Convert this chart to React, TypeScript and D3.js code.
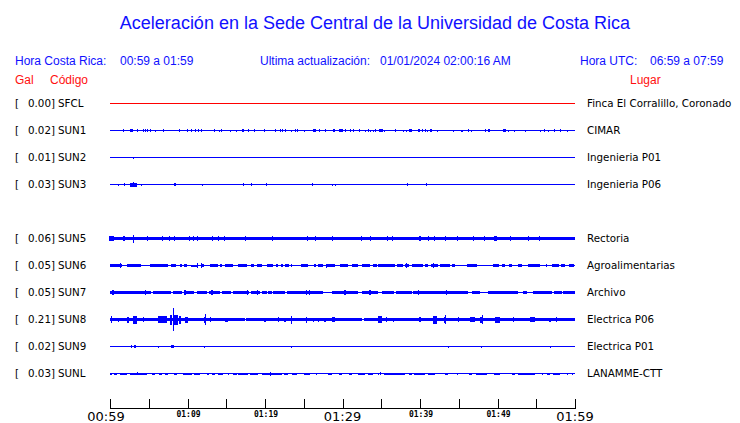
import React from "react";
import * as d3 from "d3";

// ---------- DATA ----------
const title = "Aceleración en la Sede Central de la Universidad de Costa Rica";
const codes = ["SFCL", "SUN1", "SUN2", "SUN3", "SUN5", "SUN6", "SUN7", "SUN8", "SUN9", "SUNL"];
const galValues = [0.0, 0.02, 0.01, 0.03, 0.06, 0.05, 0.05, 0.21, 0.02, 0.03];
const places = [
  "Finca El Corralillo, Coronado",
  "CIMAR",
  "Ingenieria P01",
  "Ingenieria P06",
  "Rectoria",
  "Agroalimentarias",
  "Archivo",
  "Electrica P06",
  "Electrica P01",
  "LANAMME-CTT",
];
// row slot of each station (slot 4 = SUN4, empty)
const rowSlots = [0, 1, 2, 3, 5, 6, 7, 8, 9, 10];
const slotCount = 11;

// background noise half-amplitude (counts) of each trace
const baseAmp = [0.5, 0.5, 0.5, 0.5, 1.7, 0.5, 0.5, 1.5, 0.5, 0.5];

// sustained bursts: [startMinute, endMinute, halfAmplitude]
const bandsSUN6: [number, number, number][] = [
  [0, 1.5, 1.3], [2.15, 4.0, 1.3], [5.2, 7.44, 1.3], [7.91, 8.52, 1.3], [8.99, 9.25, 1.3],
  [9.55, 9.98, 1.3], [10.45, 11.18, 1.1], [11.83, 12.13, 1.3], [12.95, 13.98, 1.3], [14.19, 14.49, 1.3],
  [14.84, 15.83, 1.3], [16.47, 17.63, 1.3], [18.15, 18.58, 1.3], [18.92, 19.57, 1.3], [20.22, 21.08, 1.3],
  [21.38, 21.72, 1.3], [22.02, 22.37, 1.3], [22.62, 23.1, 1.3], [23.35, 23.53, 1.3], [24.69, 25.5, 1.3],
  [26.32, 26.54, 1.3], [26.88, 27.53, 1.3], [27.83, 29.03, 1.3], [29.72, 30.75, 1.3], [31.27, 32.04, 1.3],
  [32.47, 33.55, 1.3], [33.89, 34.41, 1.3], [34.62, 36.77, 1.3], [37.08, 37.76, 1.3], [38.06, 38.62, 1.3],
  [38.92, 40.43, 1.3], [40.65, 41.08, 1.3], [41.38, 42.37, 1.3], [42.58, 43.87, 1.3], [44.17, 44.52, 1.3],
  [46.02, 47.4, 1.3], [49.46, 50.19, 1.3], [50.54, 50.97, 1.3], [51.53, 51.91, 1.3], [52.6, 53.2, 1.3],
  [53.89, 55.48, 1.3], [56.22, 56.43, 1.3], [56.99, 57.94, 1.3], [58.19, 58.71, 1.3], [59.23, 59.91, 1.3],
];
const bandsSUN7: [number, number, number][] = [
  [0, 5.29, 1.3], [5.51, 7.83, 1.3], [8.17, 9.33, 1.3], [9.55, 10.88, 1.3], [11.18, 12.52, 1.3],
  [12.77, 14.19, 1.3], [14.41, 15.61, 1.3], [15.91, 17.94, 1.3], [18.15, 19.35, 1.3], [19.57, 20.22, 1.3],
  [20.43, 20.86, 1.3], [21.08, 22.58, 1.3], [22.8, 27.53, 1.3], [28.6, 32.04, 1.3], [32.47, 34.62, 1.3],
  [35.05, 36.69, 1.3], [36.9, 38.92, 1.3], [39.14, 46.24, 1.3], [46.67, 47.74, 1.3], [48.82, 52.69, 1.3],
  [53.33, 53.76, 1.3], [54.62, 56.99, 1.3], [57.33, 58.28, 1.3], [58.49, 60, 1.3],
];
const bandsSUNL: [number, number, number][] = [
  [0, 0.22, 1], [0.56, 0.86, 1], [1.29, 2.15, 1], [2.58, 4.73, 1], [5.38, 5.81, 1], [6.32, 6.67, 1],
  [7.1, 7.53, 1], [8.3, 8.6, 1], [9.46, 10.62, 1], [10.88, 11.61, 1], [12.47, 12.77, 1], [13.12, 13.55, 1],
  [13.89, 14.62, 1], [15.18, 15.35, 1], [15.83, 16.34, 1], [16.56, 17.85, 1], [18.06, 19.14, 1],
  [19.57, 22.15, 1], [22.49, 23.01, 1], [23.53, 24.09, 1], [25.08, 25.81, 1], [26.54, 26.67, 1],
  [28.09, 28.6, 1], [29.59, 29.98, 1], [30.88, 31.18, 1], [32.04, 32.9, 1], [33.33, 33.98, 1],
  [34.54, 34.71, 1], [35.4, 38.06, 1], [38.58, 38.92, 1], [39.27, 40.65, 1], [41.08, 41.94, 1],
  [43.23, 43.66, 1], [44.73, 44.95, 1], [46.32, 46.67, 1], [47.18, 48.6, 1], [49.59, 50.32, 1],
  [51.83, 52.26, 1], [52.69, 54.84, 1], [55.7, 55.91, 1], [56.34, 56.77, 1], [57.2, 58.06, 1],
  [58.92, 59.14, 1], [59.57, 59.78, 1],
];

// transient peaks: [minute, halfAmplitude, durationMinutes]
const spikesSUN1: [number, number, number][] = [
  [1.72, 1.5, 0], [2.8, 1.5, 0.35], [3.53, 1.5, 0], [4.3, 1.5, 0], [4.56, 1.5, 0], [4.82, 1.5, 0],
  [5.2, 1.5, 0], [5.85, 1.2, 0], [6.8, 1.5, 0], [8.95, 1.5, 0], [9.98, 1.5, 0], [10.54, 1.5, 0.2],
  [10.97, 1.5, 0], [11.4, 1.5, 0], [11.78, 1.5, 0], [13.46, 1.5, 0], [14.02, 1.2, 0], [14.37, 1.5, 0],
  [15.53, 1.2, 0], [16.3, 1.2, 0], [17.16, 1.5, 0.3], [17.85, 1.5, 0], [18.67, 1.5, 0.2], [19.91, 1.5, 0],
  [21.33, 1.5, 0], [21.98, 1.5, 0], [22.24, 1.5, 0], [22.62, 1.5, 0], [23.4, 1.2, 0], [23.91, 1.5, 0],
  [24.17, 1.5, 0], [25.08, 1.2, 0], [26.37, 1.5, 0.45], [27.01, 1.5, 0], [27.78, 1.5, 0], [28.86, 1.5, 0.25],
  [29.81, 1.5, 0.4], [30.37, 1.5, 0], [31.01, 1.5, 0], [31.4, 1.5, 0], [32.17, 1.5, 0], [32.95, 1.2, 0],
  [33.33, 1.5, 0], [33.59, 1.2, 0], [33.94, 1.2, 0], [34.19, 1.5, 0], [34.97, 1.5, 0.5], [35.4, 1.2, 0],
  [36.82, 1.5, 0], [37.85, 1.2, 0], [38.24, 1.2, 0], [38.62, 1.5, 0], [38.88, 1.5, 0.3], [39.91, 1.5, 0.3],
  [40.3, 1.5, 0], [40.65, 1.5, 0], [40.95, 1.2, 0], [41.38, 1.5, 0.25], [42.15, 1.2, 0], [44.22, 1.2, 0],
  [45.25, 1.2, 0], [45.46, 1.2, 0], [46.15, 1.5, 0], [46.54, 1.2, 0], [48.43, 1.5, 0], [48.9, 1.5, 0.25],
  [50.88, 1.5, 0.35], [51.4, 1.2, 0], [52.17, 1.2, 0], [53.59, 1.2, 0], [55.53, 1.2, 0], [56.04, 1.5, 0],
  [56.56, 1.2, 0], [57.33, 1.5, 0], [58.11, 1.5, 0], [59.01, 1.2, 0],
];
const spikesSUN2: [number, number, number][] = [[3.0, 1.2, 0]];
const spikesSUN3: [number, number, number][] = [
  [1.08, 1.2, 0], [1.85, 1.5, 0], [3.03, 2.0, 0.82], [3.03, 2.7, 0], [4.04, 1.2, 0], [8.39, 1.5, 0.2],
  [11.91, 1.2, 0], [17.2, 1.5, 0], [18.15, 1.5, 0], [20.17, 1.5, 0], [26.11, 1.5, 0], [28.69, 1.2, 0],
  [29.03, 1.2, 0], [38.37, 1.5, 0], [40.82, 1.5, 0],
];
const spikesSUN5: [number, number, number][] = [
  [0.2, 2.5, 0.6], [1.81, 2.5, 0.2], [3.01, 3.9, 0], [4.82, 2.5, 0], [6.67, 2.5, 0], [7.61, 2.5, 0],
  [8.3, 2.5, 0], [10.24, 2.5, 0], [10.75, 2.5, 0], [11.27, 2.5, 0], [13.16, 2.5, 0], [13.98, 2.5, 0],
  [14.67, 2.5, 0], [17.42, 2.5, 0], [20.95, 2.5, 0], [25.42, 2.5, 0], [26.45, 2.5, 0], [28.69, 2.5, 0],
  [32.39, 2.5, 0], [33.59, 2.5, 0], [35.7, 2.5, 0], [36.43, 2.5, 0], [40.04, 2.5, 0.3], [41.08, 2.5, 0],
  [41.76, 2.5, 0], [43.27, 2.5, 0], [44.73, 2.5, 0], [46.84, 2.5, 0], [48.26, 2.5, 0], [49.72, 2.5, 0.35],
  [51.66, 2.5, 0], [53.94, 2.5, 0], [55.4, 2.5, 0],
];
const spikesSUN6: [number, number, number][] = [
  [1.29, 2.3, 0], [11.18, 2.3, 0], [11.8, 2.3, 0], [38.19, 2.3, 0], [41.72, 2.3, 0], [27.9, 2.0, 0],
];
const spikesSUN7: [number, number, number][] = [
  [0.43, 2.3, 0.3], [4.52, 2.3, 0], [9.68, 2.3, 0.2], [13.12, 2.5, 0.3], [17.63, 2.3, 0], [18.92, 2.3, 0],
  [25.38, 2.3, 0.2], [25.68, 2.5, 0], [30.32, 2.3, 0.2], [33.55, 2.5, 0.2], [39.78, 2.3, 0], [43.44, 2.3, 0.2],
];
const spikesSUN8: [number, number, number][] = [
  [0.22, 3.3, 0.2], [1.08, 2.0, 0.2], [2.28, 3.0, 0.3], [3.23, 4.0, 0.45], [4.3, 2.5, 0.2], [6.75, 3.5, 1.1],
  [8.09, 11.7, 0], [8.47, 5.0, 0.6], [7.85, 5.0, 0.3], [9.03, 4.0, 0.15], [9.89, 3.0, 0.45], [12.26, 5.3, 0],
  [12.26, 3.0, 0.3], [12.9, 2.5, 0], [15.05, 2.0, 0.3], [20.0, 2.0, 0.15], [21.72, 2.5, 0.2], [22.58, 2.0, 0.15],
  [23.44, 4.0, 0.2], [25.38, 3.0, 0.2], [26.24, 2.0, 0.15], [26.88, 2.0, 0.15], [27.74, 2.0, 0.15],
  [28.82, 2.5, 0.45], [34.84, 3.5, 0.4], [35.7, 2.5, 0.15], [36.56, 2.0, 0.15], [40.0, 2.5, 0.2],
  [41.94, 4.0, 0.45], [43.23, 4.5, 0], [43.23, 3.0, 0.3], [44.95, 2.5, 0.15], [46.75, 2.5, 0.6],
  [47.96, 4.5, 0], [47.96, 3.0, 0.4], [50.02, 3.0, 0.65], [52.04, 2.5, 0.2], [54.49, 2.5, 0.6],
  [56.77, 2.0, 0.15], [57.63, 2.5, 0.2],
];
const gapsSUN8: [number, number][] = [[17.45, 17.6], [32.56, 32.82]];
const spikesSUN9: [number, number, number][] = [
  [2.71, 1.3, 0], [3.22, 1.3, 0.17], [6.24, 1.2, 0], [8.08, 1.5, 0.43], [12.17, 1.2, 0], [23.35, 1.2, 0],
  [43.57, 1.2, 0], [47.87, 1.2, 0], [56.82, 1.2, 0],
];
const spikesSUNL: [number, number, number][] = [[20.65, 2.0, 0], [3.5, 1.5, 0], [34.9, 1.5, 0]];

const bandsByStation = [[], [], [], [], [], bandsSUN6, bandsSUN7, [], [], bandsSUNL];
const spikesByStation = [[], spikesSUN1, spikesSUN2, spikesSUN3, spikesSUN5, spikesSUN6, spikesSUN7, spikesSUN8, spikesSUN9, spikesSUNL];
const gapsByStation = [[], [], [], [], [], [], [], gapsSUN8, [], []];
const traceColors = ["#ff0000", "#0000ff", "#0000ff", "#0000ff", "#0000ff", "#0000ff", "#0000ff", "#0000ff", "#0000ff", "#0000ff"];

const tickMinutes = [0, 5, 10, 15, 20, 25, 30, 35, 40, 45, 50, 55, 60];
const labelMinutes = [0, 10, 20, 30, 40, 50, 60];
const labelTexts = ["00:59", "01:09", "01:19", "01:29", "01:39", "01:49", "01:59"];
const bigLabels = [true, false, false, true, false, false, true];

// ---------- CHART ----------
const W = 740;
const H = 423;
const blue = "#1010ff";
const red = "#ff1010";

export default function App() {
  const x = d3.scaleLinear().domain([0, 60]).range([110, 575]);
  const y = d3.scalePoint<number>().domain(d3.range(slotCount)).range([103, 373]);
  const amp = d3.scaleLinear().domain([0, 1]).range([0, 1]);
  const axisY = 408;

  const rect = (key: string, m0: number, m1: number, half: number, yc: number, color: string) => {
    const x0 = Math.round(x(m0));
    const x1 = Math.max(x0 + 1, Math.round(x(m1)));
    const h = Math.max(1, Math.round(2 * amp(half)));
    const top = Math.round(yc + 0.5 - h / 2);
    return <rect key={key} x={x0} y={top} width={x1 - x0} height={h} fill={color} />;
  };

  return (
    <svg
      width={W}
      height={H}
      style={{ position: "absolute", left: 0, top: 0, background: "#fff" }}
      fontFamily="'Liberation Sans', Arial, sans-serif"
    >
      <rect x={0} y={0} width={W} height={H} fill="#fff" />
      <text x={375} y={29} textAnchor="middle" fontSize={18} fill={blue}>{title}</text>

      <g fontSize={12} fill={blue}>
        <text x={15} y={65}>Hora Costa Rica:</text>
        <text x={120} y={65}>00:59 a 01:59</text>
        <text x={260} y={65}>Ultima actualización:</text>
        <text x={380} y={65}>01/01/2024 02:00:16 AM</text>
        <text x={580} y={65}>Hora UTC:</text>
        <text x={650} y={65}>06:59 a 07:59</text>
      </g>
      <g fontSize={12} fill={red}>
        <text x={15} y={84}>Gal</text>
        <text x={50} y={84}>Código</text>
        <text x={630} y={84}>Lugar</text>
      </g>

      <g fontFamily="'DejaVu Sans', sans-serif" fontSize={10.3} fill="#000">
        {codes.map((c, i) => {
          const yc = y(rowSlots[i])!;
          return (
            <g key={c}>
              <text x={15} y={yc + 4}>[</text>
              <text x={55} y={yc + 4} textAnchor="end">{galValues[i].toFixed(2)}]</text>
              <text x={58} y={yc + 4}>{c}</text>
              <text x={587} y={yc + 4}>{places[i]}</text>
            </g>
          );
        })}
      </g>

      <g shapeRendering="crispEdges">
        {codes.map((c, i) => {
          const yc = y(rowSlots[i])!;
          const col = traceColors[i];
          const gaps = gapsByStation[i] as [number, number][];
          const baseSegs: [number, number][] = [];
          let s = 0;
          gaps.forEach(([g0, g1]) => { baseSegs.push([s, g0]); s = g1; });
          baseSegs.push([s, 60]);
          return (
            <g key={c}>
              {rect(`${c}-thin`, 0, 60, 0.5, yc, col)}
              {baseSegs.map((sg, k) => rect(`${c}-b${k}`, sg[0], sg[1], baseAmp[i], yc, col))}
              {(bandsByStation[i] as [number, number, number][]).map((b, k) =>
                rect(`${c}-band${k}`, b[0], b[1], b[2], yc, col)
              )}
              {(spikesByStation[i] as [number, number, number][]).map((sp, k) =>
                rect(`${c}-sp${k}`, sp[0] - sp[2] / 2, sp[0] + sp[2] / 2, sp[1], yc, col)
              )}
            </g>
          );
        })}
      </g>

      <g shapeRendering="crispEdges">
        <line x1={x(0)} x2={x(60) + 1} y1={axisY + 0.5} y2={axisY + 0.5} stroke="#000" />
        {tickMinutes.map((m) => (
          <line key={m} x1={Math.round(x(m)) + 0.5} x2={Math.round(x(m)) + 0.5} y1={axisY - 9} y2={axisY + 1} stroke="#000" />
        ))}
      </g>
      {labelMinutes.map((m, i) =>
        bigLabels[i] ? (
          <text key={m} x={x(m) + (i === 0 ? -4 : 0)} y={421} textAnchor="middle" fontFamily="'DejaVu Sans', sans-serif" fontSize={13} fill="#000">
            {labelTexts[i]}
          </text>
        ) : (
          <text key={m} x={x(m) + 1} y={417} textAnchor="middle" fontFamily="'DejaVu Sans Mono', monospace" fontWeight="bold" fontSize={8} fill="#000">
            {labelTexts[i]}
          </text>
        )
      )}
    </svg>
  );
}
